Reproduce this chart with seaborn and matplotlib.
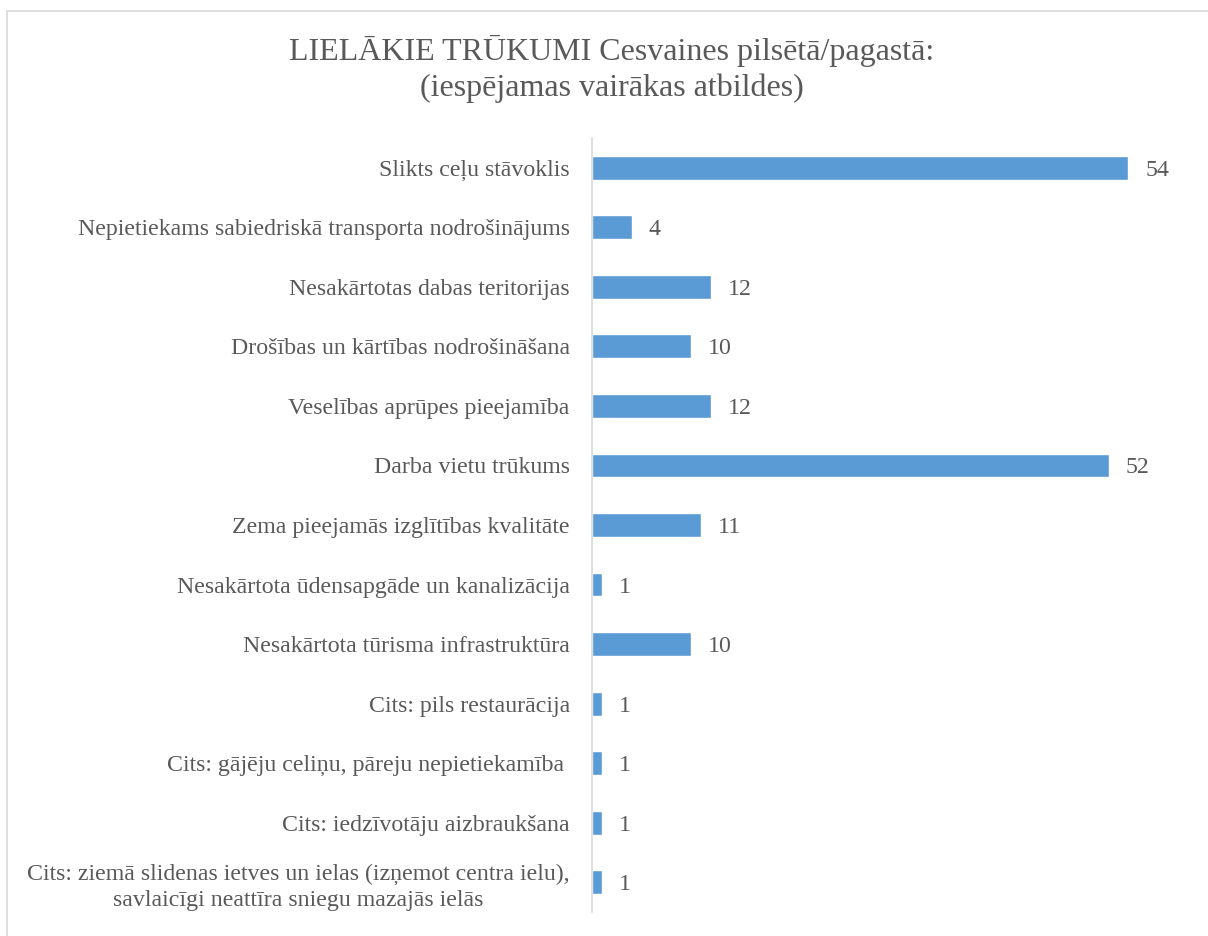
import matplotlib
matplotlib.use("Agg")
import matplotlib.pyplot as plt
import seaborn as sns
import pandas as pd
from matplotlib.patches import Rectangle

categories = [
    "Slikts ceļu stāvoklis",
    "Nepietiekams sabiedriskā transporta nodrošinājums",
    "Nesakārtotas dabas teritorijas",
    "Drošības un kārtības nodrošināšana",
    "Veselības aprūpes pieejamība",
    "Darba vietu trūkums",
    "Zema pieejamās izglītības kvalitāte",
    "Nesakārtota ūdensapgāde un kanalizācija",
    "Nesakārtota tūrisma infrastruktūra",
    "Cits: pils restaurācija",
    "Cits: gājēju celiņu, pāreju nepietiekamība ",
    "Cits: iedzīvotāju aizbraukšana",
    "Cits: ziemā slidenas ietves un ielas (izņemot centra ielu),\nsavlaicīgi neattīra sniegu mazajās ielās",
]
values = [54, 4, 12, 10, 12, 52, 11, 1, 10, 1, 1, 1, 1]
title = "LIELĀKIE TRŪKUMI Cesvaines pilsētā/pagastā:\n(iespējamas vairākas atbildes)"

df = pd.DataFrame({"cat": categories, "val": values})

sns.set_theme(style="white")
plt.rcParams["font.family"] = ["Liberation Serif", "DejaVu Serif"]

text_color = "#595959"
bar_color = "#5B9BD5"

fig = plt.figure(figsize=(12.08, 9.36), dpi=100)
ax = fig.add_axes([592/1208, 1-912/936, (1188-592)/1208, (912-138)/936])

sns.barplot(data=df, y="cat", x="val", orient="h", color=bar_color,
            width=0.4, ax=ax, saturation=1)

ax.set_xlim(0, 60)
ax.set_ylim(12.5, -0.5)
ax.set_xlabel("")
ax.set_ylabel("")
ax.set_xticks([])
for s in ["top", "right", "bottom"]:
    ax.spines[s].set_visible(False)
ax.spines["left"].set_color("#D9D9D9")
ax.spines["left"].set_linewidth(1.2)
ax.tick_params(axis="y", length=0, pad=16, labelsize=17.2, labelcolor=text_color)
for lab in ax.get_yticklabels():
    lab.set_multialignment("center")
    lab.set_linespacing(1.3)

for i, v in enumerate(values):
    ax.annotate(str(v), xy=(v, i), xytext=(12, 0), textcoords="offset points",
                va="center_baseline", ha="left", fontsize=17.2, color=text_color)

fig.text(612/1208, 1-69/936, title, ha="center", va="center",
         fontsize=23, color=text_color, linespacing=1.3)

fig.patches.append(Rectangle((7/1208, -0.1), 1.2, 1-11/936+0.1,
                             transform=fig.transFigure, fill=False,
                             edgecolor="#D9D9D9", linewidth=1.2))

fig.savefig("out.png", dpi=100, facecolor="white")
